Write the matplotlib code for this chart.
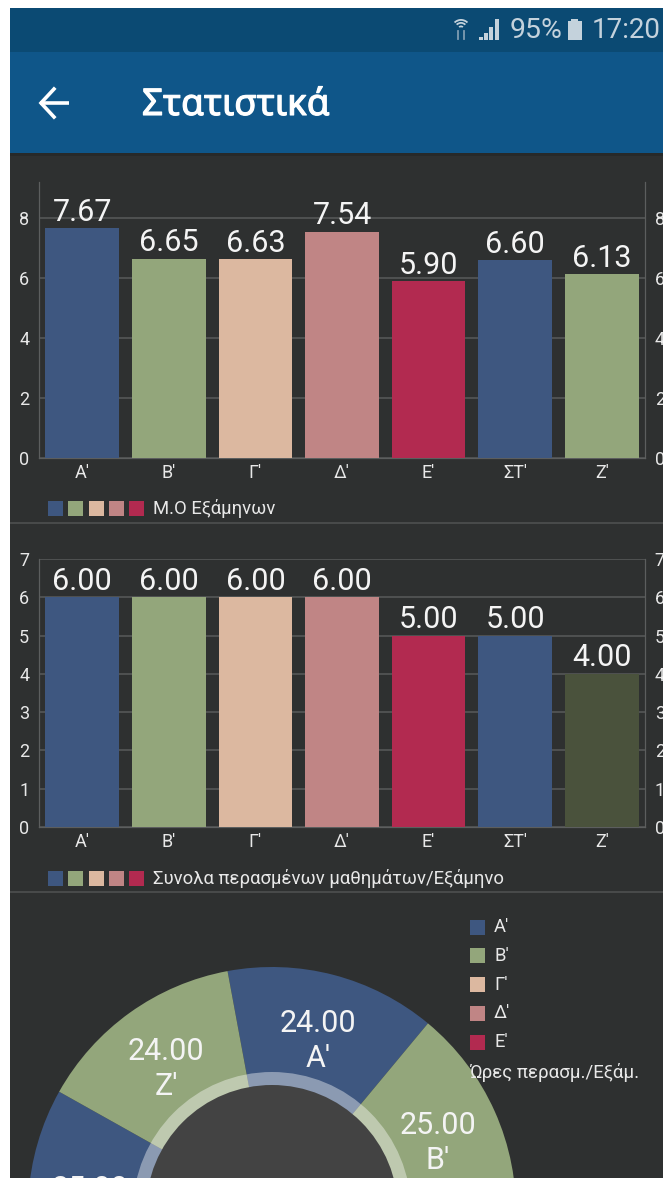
import matplotlib
matplotlib.use("Agg")
import numpy as np
import matplotlib.pyplot as plt
import matplotlib.patheffects as pe
from matplotlib.patches import Rectangle, Circle, Wedge

plt.rcParams['font.family'] = ['Roboto', 'Noto Sans', 'DejaVu Sans']

W, H = 663, 1178

semesters = ["A'", "B'", "Γ'", "Δ'", "E'", "ΣΤ'", "Z'"]
average_grades = [7.67, 6.65, 6.63, 7.54, 5.90, 6.60, 6.13]
passed_courses = [6, 6, 6, 6, 5, 5, 4]
passed_hours = [24, 25, 27, 27, 20, 25, 24]

blue = '#3e5780'
green = '#93a67b'
beige = '#dcb8a0'
pink = '#c08585'
red = '#b22a50'
olive = '#4a523c'
bg = '#2e3030'
grid = '#555757'
text_grey = '#e8e8e8'

colors1 = [blue, green, beige, pink, red, blue, green]
colors2 = [blue, green, beige, pink, red, blue, olive]
pie_colors = [blue, green, beige, pink, red, blue, green]
legend_colors = [blue, green, beige, pink, red]


def px_axes(left, top, right, bottom, **kw):
    return fig.add_axes([left / W, 1 - bottom / H, (right - left) / W, (bottom - top) / H], **kw)


def bar_panel(top, bottom, ymax, values, colors, yticks):
    ax = px_axes(39, top, 645, bottom, facecolor='none')
    ax.bar(range(7), values, width=0.85, color=colors, zorder=3)
    ax.set_xlim(-0.5, 6.5)
    ax.set_ylim(0, ymax)
    ax.set_yticks(yticks)
    ax.set_xticks(range(7))
    ax.set_xticklabels(semesters, fontsize=13, color=text_grey)
    ax.tick_params(axis='x', length=0, pad=4)
    ax.tick_params(axis='y', length=0, pad=7, labelsize=13, labelcolor=text_grey,
                   labelright=True, labelleft=True)
    ax.grid(axis='y', color=grid, lw=1.2, zorder=1)
    ax.spines['top'].set_visible(False)
    for side in ('left', 'right', 'bottom'):
        ax.spines[side].set_color('#5c5e5e')
        ax.spines[side].set_linewidth(0.9)
    for i, v in enumerate(values):
        ax.annotate(f"{v:.2f}", (i, v), xytext=(0, 1), textcoords='offset points',
                    ha='center', va='bottom', fontsize=22, color='#f4f4f4', zorder=5)
    return ax


fig = plt.figure(figsize=(W / 100, H / 100), dpi=100, facecolor='white')

# screen background, drawn in pixel coordinates
base = fig.add_axes([0, 0, 1, 1])
base.set_xlim(0, W)
base.set_ylim(H, 0)
base.axis('off')
base.add_patch(Rectangle((10, 8), W - 10, H - 8, color=bg, lw=0))
base.add_patch(Rectangle((10, 8), W - 10, 44, color='#0b4a73', lw=0))
base.add_patch(Rectangle((10, 52), W - 10, 101, color='#0f5689', lw=0))
base.add_patch(Rectangle((10, 153), W - 10, 3, color='#272929', lw=0))
base.add_patch(Rectangle((10, 522), W - 10, 2, color='#484a4a', lw=0))
base.add_patch(Rectangle((10, 891), W - 10, 2, color='#484a4a', lw=0))

# status bar
icon = '#c4d2dc'
for r in (10, 7, 3.5):
    base.add_patch(Wedge((461, 29), r, 225, 315, width=1.8, color=icon, lw=0))
base.plot([458, 458], [31, 39], color='#7f9cb2', lw=1.3)
base.plot([464, 464], [31, 39], color='#7f9cb2', lw=1.3)
for x, h in ((479, 3), (484, 7), (489, 13), (495, 21)):
    base.add_patch(Rectangle((x, 40 - h), 3.6, h, color=icon, lw=0))
base.text(510, 31, "95%", color=icon, fontsize=20.5, va='center', ha='left')
base.add_patch(Rectangle((567.5, 21), 14, 19, color=icon, lw=0))
base.add_patch(Rectangle((571, 18.5), 7, 3, color=icon, lw=0))
base.text(592, 31, "17:20", color=icon, fontsize=20, va='center', ha='left')

# app bar
base.plot([40, 69], [103, 103], color='white', lw=2.6, solid_capstyle='butt')
base.plot([54, 41, 54], [89, 103, 117], color='white', lw=2.6, solid_joinstyle='miter')
base.text(142, 106, "Στατιστικά", color='white', fontsize=26.5,
          family=['Noto Sans', 'DejaVu Sans'], va='center', ha='left',
          path_effects=[pe.withStroke(linewidth=0.8, foreground='white')])

bar_panel(182, 458, 9.2, average_grades, colors1, [0, 2, 4, 6, 8])
bar_panel(559, 827, 7, passed_courses, colors2, range(8))

# compact legends under the bar charts
for y, label in ((508, "Μ.Ο Εξάμηνων"), (878, "Συνολα περασμένων μαθημάτων/Εξάμηνο")):
    for i, c in enumerate(legend_colors):
        base.add_patch(Rectangle((48 + i * 20.3, y - 7.5), 15, 15, color=c, lw=0))
    base.text(153, y, label, color=text_grey, fontsize=13.3, va='center', ha='left')

# doughnut, running off the bottom of the screen
R = 244
cx, cy = 272, 1211
pie_ax = px_axes(cx - R, cy - R, cx + R, cy + R, facecolor='none')
wedges, _ = pie_ax.pie(passed_hours, colors=pie_colors, radius=1, startangle=100.5,
                       counterclock=False, center=(0, 0), frame=False)
pie_ax.set_xlim(-1, 1)
pie_ax.set_ylim(-1, 1)
pie_ax.axis('off')
pie_ax.add_patch(Circle((0, 0), 139 / R, color='white', alpha=0.4, lw=0))
pie_ax.add_patch(Circle((0, 0), 126 / R, color='#434343', lw=0))
for w, val, name in zip(wedges, passed_hours, semesters):
    mid = np.deg2rad((w.theta1 + w.theta2) / 2)
    x, y = 0.745 * np.cos(mid), 0.745 * np.sin(mid) - 0.025
    pie_ax.text(x, y, f"{val:.2f}\n{name}", color='#f4f4f4', fontsize=22,
                ha='center', va='center', linespacing=1.25, clip_on=True)

# side legend of the doughnut
leg = fig.add_axes([0, 0, 1, 1], facecolor='none')
leg.set_xlim(0, W)
leg.set_ylim(H, 0)
leg.axis('off')
for i, (c, name) in enumerate(zip(legend_colors, semesters)):
    y = 927 + i * 28.8
    leg.add_patch(Rectangle((469.5, y - 7.5), 15, 15, color=c, lw=0))
    leg.text(494, y, name, color=text_grey, fontsize=13.3, va='center', ha='left')
leg.text(469, 1072, "Ώρες περασμ./Εξάμ.", color=text_grey, fontsize=13.5, va='center', ha='left')

fig.savefig('out.png', dpi=100, facecolor='white')
